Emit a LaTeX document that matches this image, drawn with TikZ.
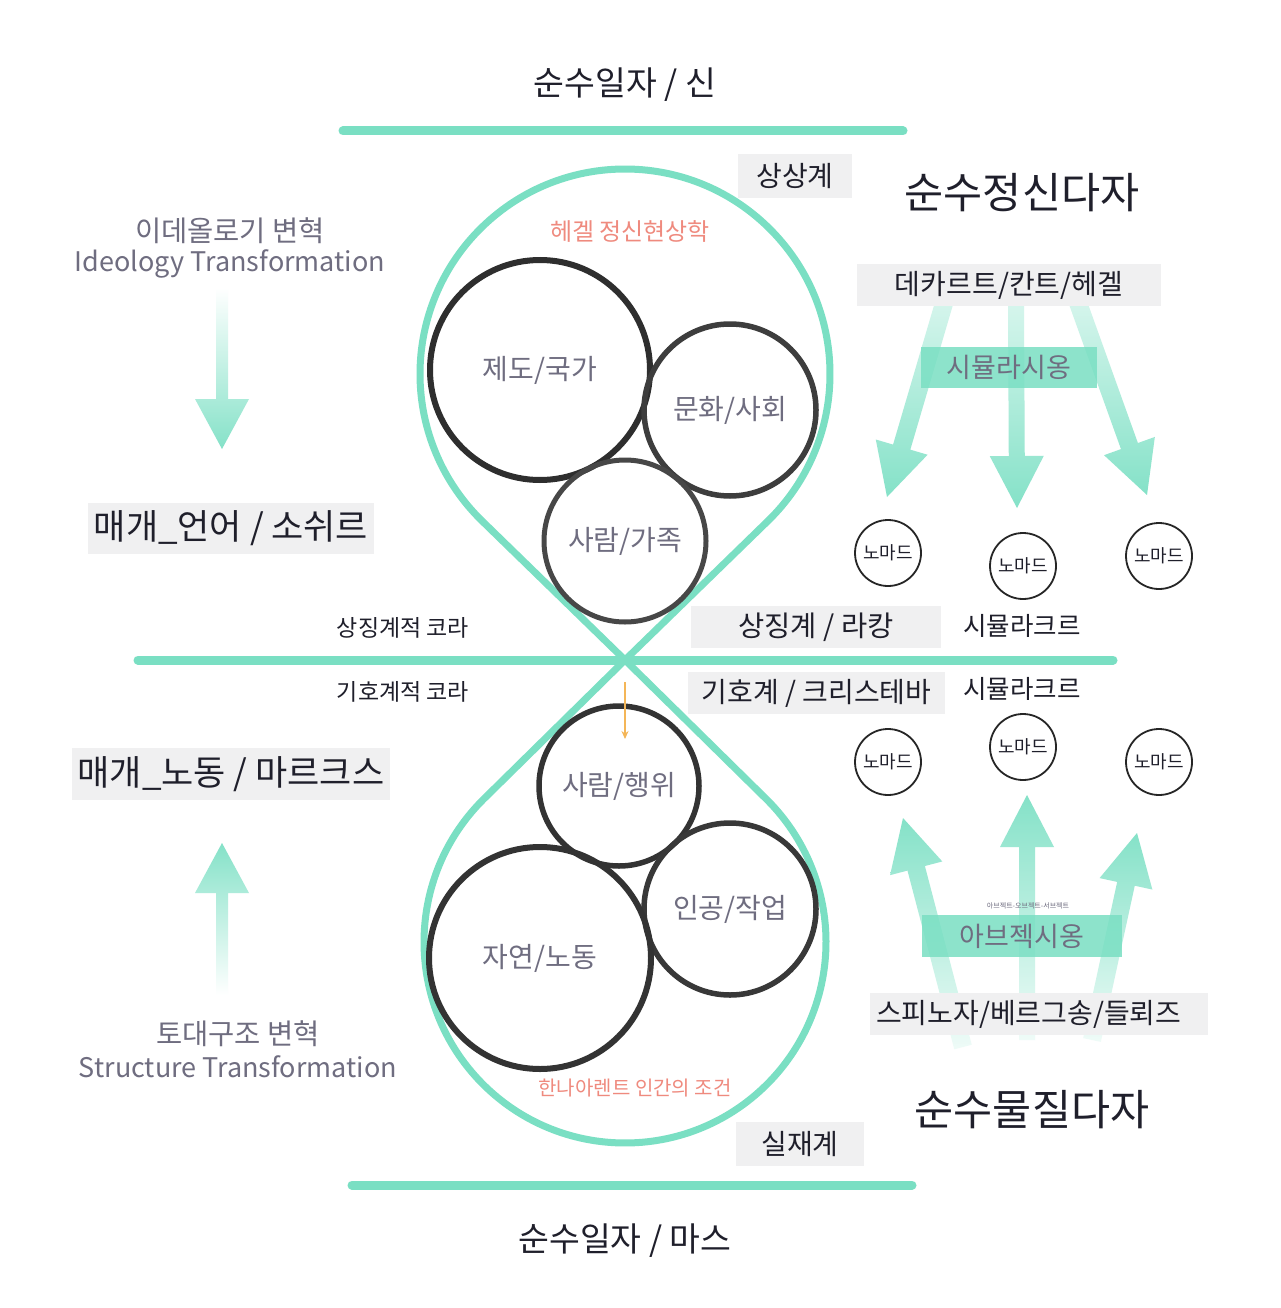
\documentclass[tikz,border=0pt]{standalone}
\usepackage{fontspec}
\setmainfont{Noto Sans CJK KR}
\usetikzlibrary{calc,arrows.meta}
\definecolor{mint}{HTML}{7ADFC3}
\definecolor{boxgray}{HTML}{F0F0F1}
\definecolor{darktxt}{HTML}{1F1F2B}
\definecolor{graytxt}{HTML}{6F6D80}
\definecolor{salmon}{HTML}{EF8A7E}
\definecolor{orng}{HTML}{F2A93B}
\newcommand{\fs}[1]{\fontsize{#1pt}{#1pt}\selectfont}
% #1 start, #2 tip, #3 shaft half width, #4 head half width, #5 head length, #6 shade options, #7 prefix
\newcommand{\fatarrow}[7]{%
  \coordinate (#7hb) at ($(#2)!#5!(#1)$);
  \shade[#6] ($(#1)!#3!90:(#2)$) -- ($(#7hb)!#3!90:(#2)$) -- ($(#7hb)!#4!90:(#2)$)
    -- (#2) -- ($(#7hb)!#4!-90:(#2)$) -- ($(#7hb)!#3!-90:(#2)$) -- ($(#1)!#3!-90:(#2)$) -- cycle;
}
\tikzset{
  mintline/.style={line width=9pt, draw=mint, line cap=round},
  tear/.style={line width=7pt, draw=mint, line join=round},
  gbox/.style={fill=boxgray, text=darktxt, inner sep=0pt},
  mbox/.style={fill=mint, fill opacity=0.85, text opacity=1, text=graytxt, inner sep=0pt, font=\fs{27}},
  ring/.style={circle, inner sep=0pt, text=graytxt, font=\fs{28}},
  nomad/.style={circle, draw=black!85, line width=1.8pt, minimum size=66pt, inner sep=0pt, font=\fs{18}, text=darktxt},
  plain/.style={text=darktxt, inner sep=0pt},
  downshade/.style={top color=mint!30, bottom color=mint!92},
  upshade/.style={top color=mint!92, bottom color=mint!12},
}
\begin{document}
\begin{tikzpicture}[x=1pt,y=1pt]
\fill[white] (0,0) rectangle (1280,-1308);
\useasboundingbox (0,0) rectangle (1280,-1308);

% horizontal lines
\draw[mintline] (343,-131) -- (903,-131);
\draw[mintline] (138,-660) -- (1113,-660);
\draw[mintline] (352,-1185) -- (912,-1185);

% teardrops
\coordinate (P) at (625,-660);
\draw[tear] (P) -- ($(625,-374)+(314.2:205)$) arc[start angle=314.2, end angle=585.8, radius=205] -- cycle;
\draw[tear] (P) -- ($(625,-942)+(134.5:201)$) arc[start angle=134.5, end angle=405.5, radius=201] -- cycle;

% circles upper
\node[ring, draw=black!82, line width=6pt, minimum size=220pt] (c1) at (540,-370) {제도/국가};
\node[ring, draw=black!76, line width=5.5pt, minimum size=172pt] (c2) at (730,-410) {문화/사회};
\node[ring, draw=black!72, line width=5pt, minimum size=162pt] (c3) at (625,-541) {사람/가족};
% circles lower
\node[ring, draw=black!80, line width=5.5pt, minimum size=160pt] (c4) at (619,-786) {사람/행위};
\node[ring, draw=black!78, line width=5.5pt, minimum size=172pt] (c5) at (730,-909) {인공/작업};
\node[ring, draw=black!80, line width=6pt, minimum size=222pt] (c6) at (540,-958) {자연/노동};

% orange arrow
\coordinate (o1) at (625,-682);
\coordinate (o2) at (625,-739);
\draw[orng!85, line width=1.6pt, -{Stealth[length=8pt,width=7pt]}] (o1) -- (o2);

% salmon labels
\node[text=salmon, font=\fs{24}] (hegel) at (630,-231) {헤겔 정신현상학};
\node[text=salmon, font=\fs{20}] (arendt) at (635,-1088) {한나아렌트 인간의 조건};

% top / bottom titles
\node[plain, font=\fs{33.5}] (t1) at (625,-85) {순수일자 / 신};
\node[plain, font=\fs{33.5}] (t2) at (625,-1241) {순수일자 / 마스};

% left side arrows
\coordinate (la1s) at (222,-288);
\coordinate (la1t) at (222,-449);
\fatarrow{la1s}{la1t}{6pt}{27pt}{50pt}{top color=white, bottom color=mint!92}{la1}
\coordinate (la2s) at (222,-995);
\coordinate (la2t) at (222,-843);
\fatarrow{la2s}{la2t}{6pt}{27pt}{50pt}{top color=mint!92, bottom color=white}{la2}

% right top arrows
\coordinate (ra1s) at (945,-300);
\coordinate (ra1t) at (887,-497);
\coordinate (ra2s) at (1016,-300);
\coordinate (ra2t) at (1017,-508);
\coordinate (ra3s) at (1077,-300);
\coordinate (ra3t) at (1147,-495);
\fatarrow{ra1s}{ra1t}{9pt}{27pt}{52pt}{downshade}{ra1}
\fatarrow{ra2s}{ra2t}{8pt}{27pt}{52pt}{downshade}{ra2}
\fatarrow{ra3s}{ra3t}{9pt}{27pt}{52pt}{downshade}{ra3}

% right bottom arrows
\coordinate (rb1s) at (963,-1047);
\coordinate (rb1t) at (903,-818);
\coordinate (rb2s) at (1027,-1040);
\coordinate (rb2t) at (1027,-795);
\coordinate (rb3s) at (1092,-1040);
\coordinate (rb3t) at (1137,-833);
\fatarrow{rb1s}{rb1t}{9pt}{27pt}{52pt}{upshade}{rb1}
\fatarrow{rb2s}{rb2t}{8pt}{27pt}{52pt}{upshade}{rb2}
\fatarrow{rb3s}{rb3t}{9pt}{27pt}{52pt}{upshade}{rb3}

% gray boxes
\node[gbox, minimum width=114pt, minimum height=44pt, font=\fs{28}] (sangsang) at (795,-176) {상상계};
\node[gbox, minimum width=250pt, minimum height=42pt, font=\fs{28.5}] (lacan) at (816,-627) {상징계 / 라캉};
\node[gbox, minimum width=257pt, minimum height=42pt, font=\fs{28}] (kristeva) at (816.5,-693) {기호계 / 크리스테바};
\node[gbox, minimum width=128pt, minimum height=44pt, font=\fs{28}] (silje) at (800,-1144) {실재계};
\node[gbox, minimum width=304pt, minimum height=42pt, font=\fs{28}] (descartes) at (1009,-285) {데카르트/칸트/헤겔};
\node[gbox, minimum height=42pt, inner xsep=6pt, text width=326pt, align=left, font=\fs{28}] (spinoza) at (1039,-1014) {스피노자/베르그송/들뢰즈};
\node[gbox, minimum width=286pt, minimum height=51pt, font=\fs{35}] (saussure) at (231,-528.5) {매개\_언어 / 소쉬르};
\node[gbox, minimum width=318pt, minimum height=52pt, font=\fs{35}] (marx) at (231,-774) {매개\_노동 / 마르크스};

% mint boxes
\node[mbox, minimum width=176pt, minimum height=41pt] (simul) at (1009,-367.5) {시뮬라시옹};
\node[mbox, minimum width=200pt, minimum height=42pt] (abject) at (1022,-936) {아브젝시옹};
\node[text=graytxt, font=\fs{7}] (abjsmall) at (1028,-906) {아브젝트-오브젝트-서브젝트};

% big titles right
\node[plain, font=\fs{42.5}] (mind) at (1022,-193) {순수정신다자};
\node[plain, font=\fs{42.5}] (matter) at (1032,-1110) {순수물질다자};

% simulacre labels
\node[plain, font=\fs{25.5}] (sim1) at (1022,-626) {시뮬라크르};
\node[plain, font=\fs{25.5}] (sim2) at (1022,-689) {시뮬라크르};

% chora labels
\node[plain, font=\fs{23}] (chora1) at (403,-628) {상징계적 코라};
\node[plain, font=\fs{23}] (chora2) at (403,-692) {기호계적 코라};

% transformation labels
\node[text=graytxt, font=\fs{28.5}] (ideo1) at (230,-231) {이데올로기 변혁};
\node[text=graytxt, font=\fs{27}] (ideo2) at (230,-264) {Ideology Transformation};
\node[text=graytxt, font=\fs{28.5}] (str1) at (238,-1034) {토대구조 변혁};
\node[text=graytxt, font=\fs{27}] (str2) at (238,-1067) {Structure Transformation};

% nomads
\node[nomad] (n1) at (888,-553) {노마드};
\node[nomad] (n2) at (1023,-566) {노마드};
\node[nomad] (n3) at (1159,-556) {노마드};
\node[nomad] (n4) at (888,-762) {노마드};
\node[nomad] (n5) at (1023,-747) {노마드};
\node[nomad] (n6) at (1159,-762) {노마드};
\end{tikzpicture}
\end{document}
